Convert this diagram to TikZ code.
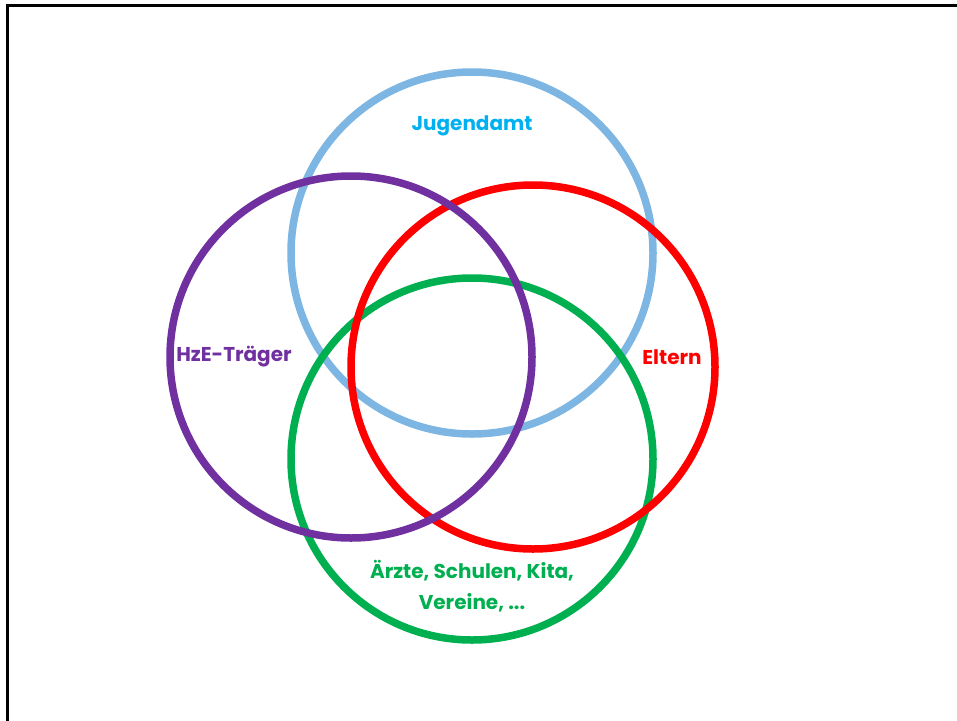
\documentclass[tikz,border=0pt]{standalone}
\usepackage{fontspec}
\setmainfont{Poppins}
\usepackage{tikz}
\definecolor{amtblue}{HTML}{7DB6E3}
\definecolor{amttext}{HTML}{00B0F0}
\definecolor{hzepurple}{HTML}{7030A0}
\definecolor{elternred}{HTML}{FF0000}
\definecolor{umfeldgreen}{HTML}{00B050}

\begin{document}
\begin{tikzpicture}[x=1pt,y=-1pt,line width=7.5pt,
    label/.style={font=\fontsize{20}{31}\selectfont\bfseries, align=center, inner sep=0pt}]
    \useasboundingbox (0,0) rectangle (957,720);
    \clip (0,0) rectangle (957,720);
    \draw[line width=3pt] (7,730) -- (7,5) -- (970,5);

    % Kreise
    \draw[amtblue] (472,253) circle (181);
    \draw[umfeldgreen] (472,459) circle (181);
    \draw[elternred] (533,367) circle (182);
    \draw[hzepurple] (351,357) circle (181);

    \node[label, text=amttext](amt) at (472,126) {Jugendamt};
    \node[label, text=hzepurple](hze) at (234,357) {HzE-Träger};
    \node[label, text=elternred](eltern) at (672,357) {Eltern};
    \node[label, text=umfeldgreen](umfeld) at (472,586) {Ärzte, Schulen, Kita,\\Vereine, ...};
  \end{tikzpicture}
\end{document}
